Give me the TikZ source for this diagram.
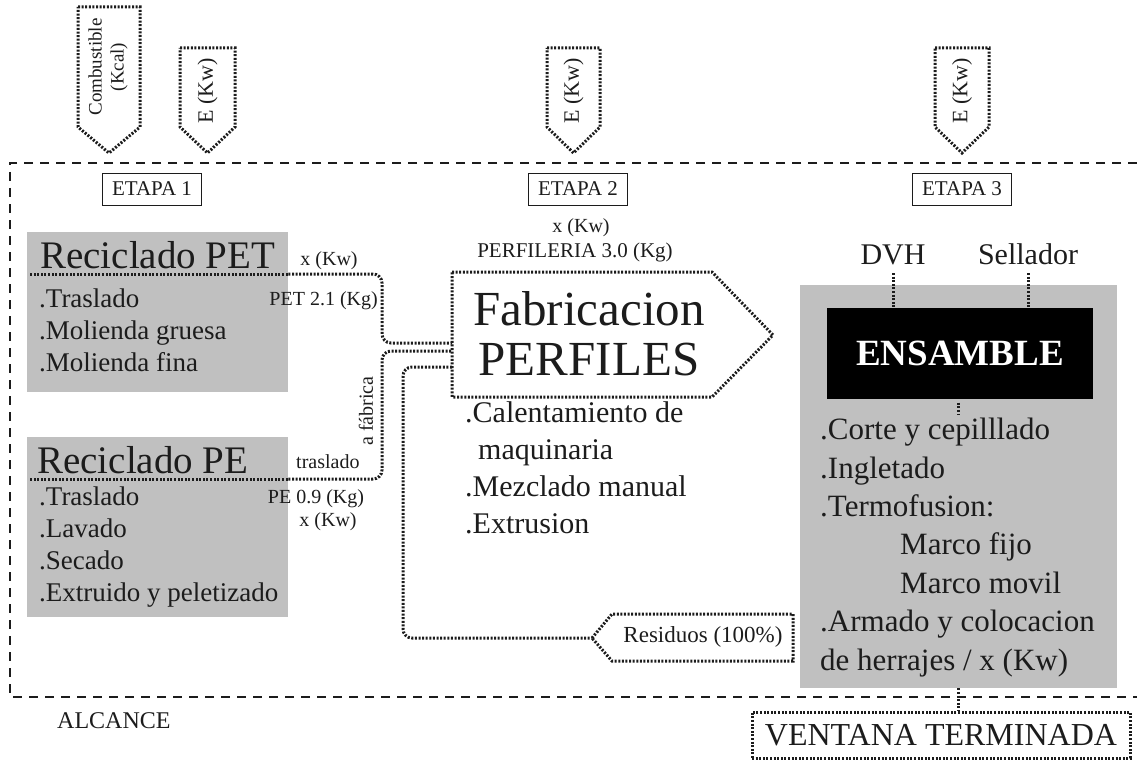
\documentclass[tikz,border=0pt]{standalone}
\usepackage{fontspec}
\setmainfont{Liberation Serif}
\usetikzlibrary{positioning,calc}
\definecolor{boxgray}{HTML}{C0C0C0}
\definecolor{inkdark}{HTML}{1C1C1C}
\newcommand{\fsz}[2]{\fontsize{#1}{#2}\selectfont}

\begin{document}
\begin{tikzpicture}[x=1pt,y=-1pt,
  every node/.style={inner sep=0pt,text=inkdark},
  dotline/.style={line width=3pt,dash pattern=on 2pt off 1.6pt,draw=inkdark},
  scopeline/.style={line width=1.4pt,dash pattern=on 9pt off 7pt,draw=inkdark},
  graybox/.style={fill=boxgray,draw=none,anchor=north west},
  etapa/.style={draw=inkdark,line width=0.9pt,minimum width=99pt,minimum height=32pt,
                font=\fsz{21}{24}},
  titletxt/.style={anchor=base west,font=\fsz{39}{42}},
  itemtxt/.style={anchor=base west,align=left,font=\fsz{27}{32}},
  smalltxt/.style={anchor=base,font=\fsz{20}{24}},
  inputtxt/.style={rotate=90,align=center,font=\fsz{22}{22}}
]
  \useasboundingbox (0,0) rectangle (1137,762);

  % alcance
  \draw[scopeline] (1137,163) -- (10,163) -- (10,697) -- (1137,697);
  \node[anchor=base west,font=\fsz{24}{26}] (alcance) at (57,728) {ALCANCE};

  % entradas
  \draw[dotline] (78,7) -- (140,7) -- (140,127) -- (109,153) -- (78,127) -- cycle;
  \node[inputtxt,font=\fsz{19}{22}] (comb) at (108,67) {Combustible\\(Kcal)};
  \foreach \l/\r in {180/235,547/600,935/989}{
    \draw[dotline] (\l,48) -- (\r,48) -- (\r,127) -- ({(\l+\r)/2},153) -- (\l,127) -- cycle;
    \node[inputtxt] (ekw-\l) at ({(\l+\r)/2},91) {E (Kw)};
  }

  % etapas
  \node[etapa] (et1) at (152,189) {ETAPA 1};
  \node[etapa] (et2) at (578,189) {ETAPA 2};
  \node[etapa] (et3) at (962,189) {ETAPA 3};

  % reciclado (base = last line)
  \node[graybox,minimum width=261pt,minimum height=160pt] (petbox) at (27,232) {};
  \node[graybox,minimum width=261pt,minimum height=180pt] (pebox) at (27,437) {};
  \node[titletxt] (pettitle) at (40,268) {Reciclado PET};
  \node[itemtxt] (petitems) at (39,371) {.Traslado\\.Molienda gruesa\\.Molienda fina};
  \node[titletxt] (petitle) at (37,473) {Reciclado PE};
  \node[itemtxt] (peitems) at (39,601) {.Traslado\\.Lavado\\.Secado\\.Extruido y peletizado};

  \node[smalltxt] (petkw) at (329,265) {x (Kw)};
  \node[smalltxt,anchor=base east] (petkg) at (378,305) {PET 2.1 (Kg)};
  \node[smalltxt] (pekg) at (316,503) {PE 0.9 (Kg)};
  \node[smalltxt] (pekw) at (328,526) {x (Kw)};
  \node[smalltxt,anchor=base west] (trasl) at (296,468) {traslado};
  \node[smalltxt,rotate=90,anchor=center] (afab) at (366,411) {a fábrica};

  % fabricacion
  \draw[dotline] (452,272) -- (712,272) -- (773,335) -- (712,397) -- (452,397) -- cycle;
  \node[align=center,font=\fsz{49}{50}] (fab) at (589,334) {Fabricacion\\PERFILES};
  \node[smalltxt] (fabkw) at (581,232) {x (Kw)};
  \node[smalltxt,font=\fsz{21}{24}] (fabkg) at (575,257) {PERFILERIA 3.0 (Kg)};
  \node[itemtxt,font=\fsz{30}{36.7}] (fabitems) at (465,533)
    {.Calentamiento de\\\hspace*{13pt}maquinaria\\.Mezclado manual\\.Extrusion};

  \coordinate (petline) at (30,274);
  \coordinate (peline) at (30,479);
  \coordinate (jointpet) at (382,343);
  \coordinate (jointpe) at (382,351);
  \coordinate (jointres) at (403,638);
  \coordinate (fabin1) at (452,343);
  \coordinate (fabin2) at (452,351);
  \coordinate (fabin3) at (452,367);
  % dotted underlines inside the gray boxes
  \foreach \x in {30,33.6,...,286}{
    \fill[inkdark] (\x,272.5) rectangle ++(2,3);
    \fill[inkdark] (\x,477.5) rectangle ++(2,3);
  }
  \draw[dotline,rounded corners=9pt] (petbox.east |- petline) -| (jointpet) -- (fabin1);
  \draw[dotline,rounded corners=9pt] (pebox.east |- peline) -| (jointpe) -- (fabin2);
  \draw[dotline,rounded corners=9pt] (fabin3) -| (jointres) -- (592,638);

  % residuos
  \draw[dotline] (592,638) -- (612,614) -- (793,614) -- (793,661) -- (612,661) -- cycle;
  \node[font=\fsz{23}{26}] (resid) at (703,637) {Residuos (100\%)};

  % ensamble
  \node[graybox,minimum width=317pt,minimum height=403pt] (ensbox) at (800,285) {};
  \node[fill=black,minimum width=266pt,minimum height=91pt,text=white,
        font=\fsz{37}{40}\bfseries] (ens) at (960,353) {ENSAMBLE};
  \node[anchor=base,font=\fsz{30}{32}] (dvh) at (893,264) {DVH};
  \node[anchor=base,font=\fsz{30}{32}] (sell) at (1028,264) {Sellador};
  \draw[dotline] (dvh.south |- 0,273) -- (dvh.south |- ens.north);
  \draw[dotline] (sell.south |- 0,273) -- (sell.south |- ens.north);
  \draw[dotline] ($(ens.south)+(-2,4)$) -- ($(ens.south)+(-2,16)$);
  \node[itemtxt,font=\fsz{31}{38.4}] (ensitems) at (820,670)
    {.Corte y cepilllado\\.Ingletado\\.Termofusion:\\\hspace*{80pt}Marco fijo\\
     \hspace*{80pt}Marco movil\\.Armado y colocacion\\de herrajes / x (Kw)};

  % ventana
  \node[draw=inkdark,dotline,minimum width=378pt,minimum height=46pt,
        font=\fsz{32}{34}] (vent) at (941,735) {VENTANA TERMINADA};
  \draw[dotline] (ensbox.south) -- (ensbox.south |- vent.north);
\end{tikzpicture}
\end{document}
